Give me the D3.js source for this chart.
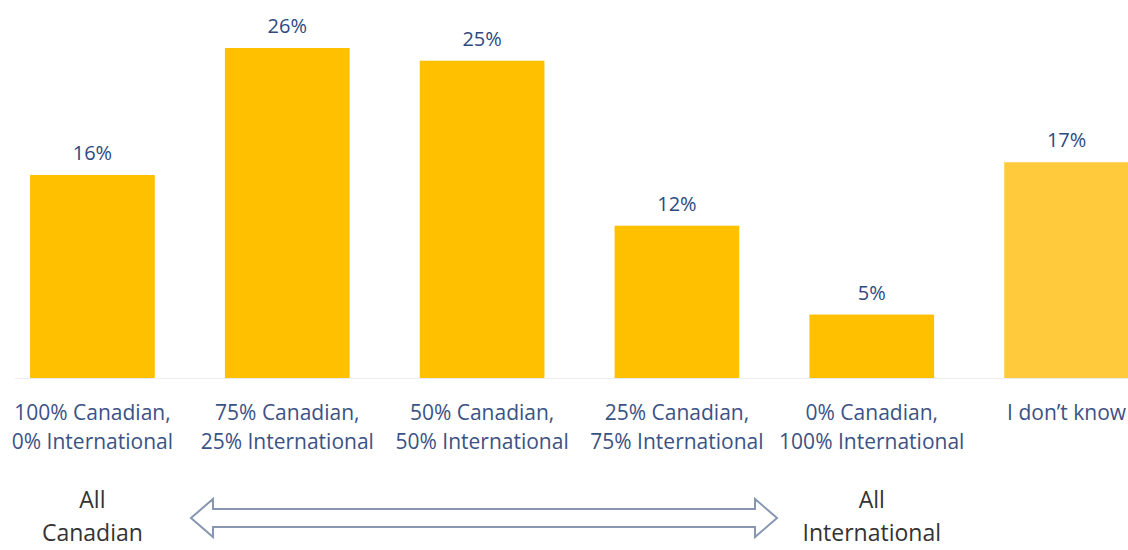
<!DOCTYPE html>
<html><head><meta charset="utf-8">
<script src="https://cdn.jsdelivr.net/npm/d3@7"></script>
<style>body{margin:0;background:#fff}svg{display:block}</style>
</head><body><svg id="c" width="1128" height="550"></svg>
<script>
const categories = ["100% Canadian,|0% International","75% Canadian,|25% International","50% Canadian,|50% International","25% Canadian,|75% International","0% Canadian,|100% International","I don\u2019t know"];
const values = [16, 26, 25, 12, 5, 17];
const valueLabels = ["16%","26%","25%","12%","5%","17%"];
const endLabels = [["All","Canadian"],["All","International"]];

const svg = d3.select("#c");
const font = "'Open Sans', sans-serif";
const x = d3.scaleBand().domain(d3.range(categories.length)).range([-5, 1164]).paddingInner(0.36).paddingOuter(0.18);
const y = d3.scaleLinear().domain([0, 26]).range([378, 48]);

svg.append("line").attr("x1", 15).attr("x2", 1128).attr("y1", 378.5).attr("y2", 378.5).attr("stroke", "#ececec");

svg.selectAll("rect.bar").data(values).join("rect").attr("class","bar")
  .attr("x", (d,i)=>x(i)).attr("width", x.bandwidth())
  .attr("y", d=>y(d)).attr("height", d=>y(0)-y(d))
  .attr("fill", (d,i)=> i===5 ? "#FFCB3D" : "#FFC000");

svg.selectAll("text.val").data(values).join("text").attr("class","val")
  .attr("x", (d,i)=>x(i)+x.bandwidth()/2).attr("y", d=>y(d)-15)
  .attr("text-anchor","middle").attr("font-family",font).attr("font-size",20)
  .attr("fill","#2E4A7E").text((d,i)=>valueLabels[i]);

categories.forEach((c,i)=>{
  const lines = c.split("|");
  const t = svg.append("text").attr("text-anchor","middle").attr("font-family",font).attr("font-size",21).attr("fill","#3B5284");
  lines.forEach((l,j)=>{
    t.append("tspan").attr("x", x(i)+x.bandwidth()/2).attr("y", 420 + j*29).text(l);
  });
});

[[0, endLabels[0]],[4, endLabels[1]]].forEach(([i, ls])=>{
  const t = svg.append("text").attr("text-anchor","middle").attr("font-family",font).attr("font-size",23).attr("fill","#333");
  ls.forEach((l,j)=>t.append("tspan").attr("x", x(i)+x.bandwidth()/2).attr("y", 508 + j*33).text(l));
});

// double arrow
const ax0 = 191, ax1 = 777, cy = 518, hh = 19, sh = 9, hl = 22;
const p = [[ax0,cy],[ax0+hl,cy-hh],[ax0+hl,cy-sh],[ax1-hl,cy-sh],[ax1-hl,cy-hh],[ax1,cy],[ax1-hl,cy+hh],[ax1-hl,cy+sh],[ax0+hl,cy+sh],[ax0+hl,cy+hh]];
svg.append("path").attr("d", d3.line()(p)+"Z").attr("fill","#fff").attr("stroke","#8797B2").attr("stroke-width",2);
</script></body></html>
